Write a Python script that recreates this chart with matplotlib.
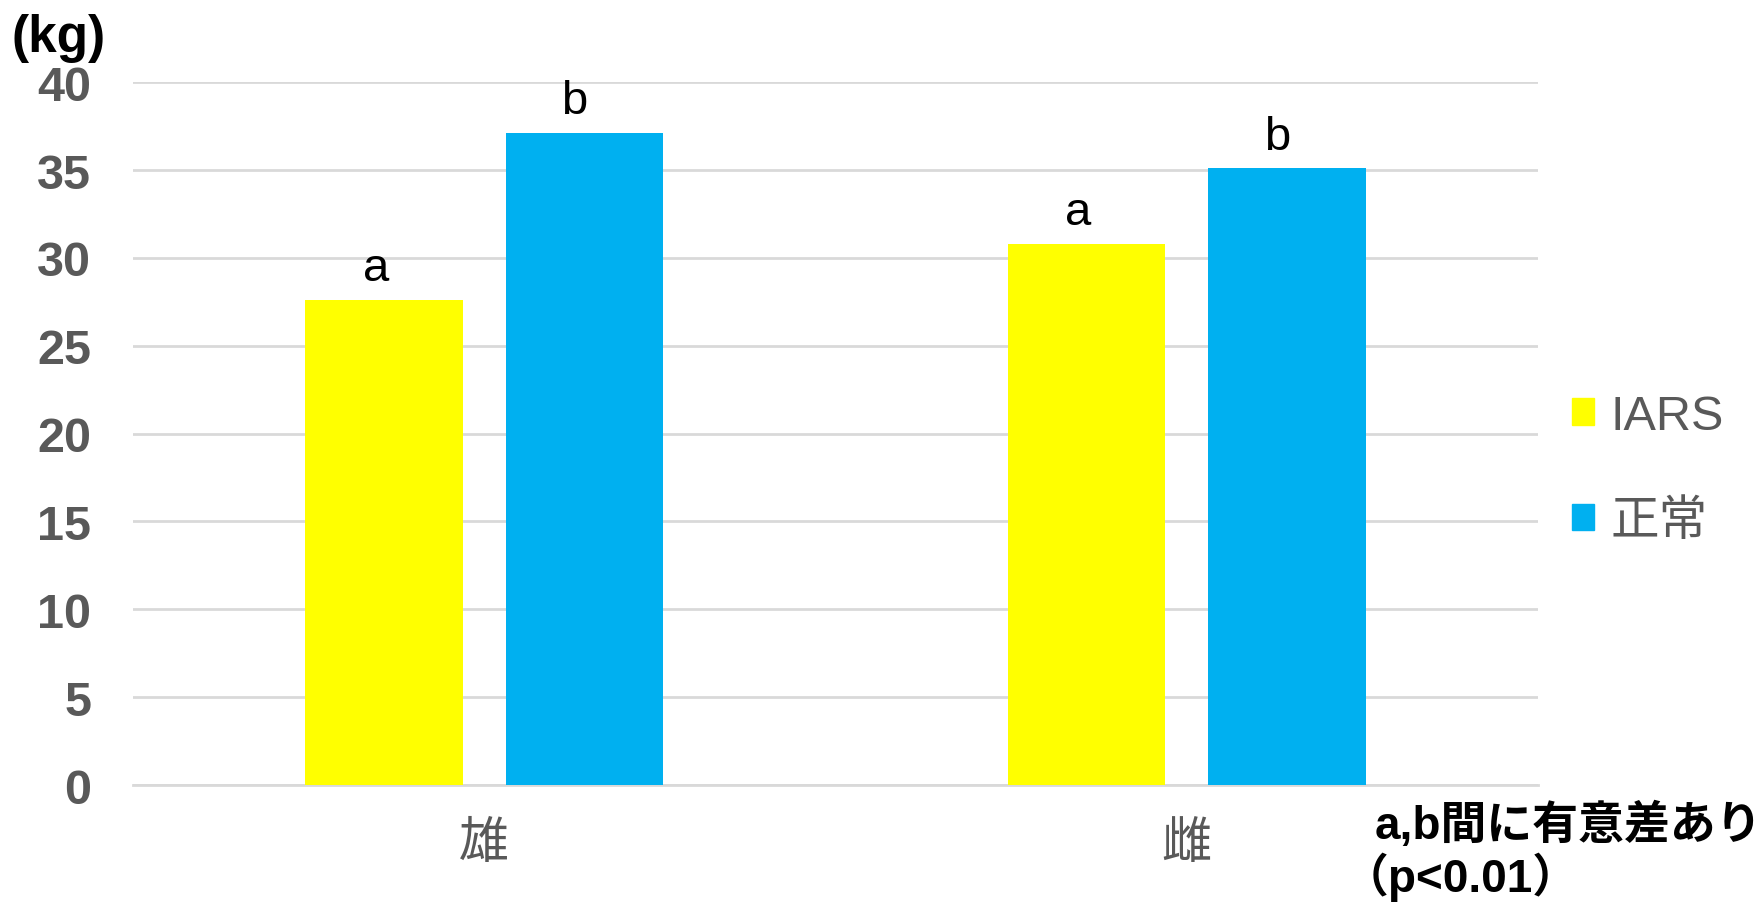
import matplotlib
matplotlib.use("Agg")
import matplotlib.pyplot as plt
import numpy as np
from matplotlib.patches import Patch

plt.rcParams['font.family'] = ['Liberation Sans', 'Noto Sans CJK JP', 'DejaVu Sans']

categories = ['雄', '雌']
series_names = ['IARS', '正常']
iars_values = [27.6, 30.8]
normal_values = [37.1, 35.1]
iars_letters = ['a', 'a']
normal_letters = ['b', 'b']
yticks = [0, 5, 10, 15, 20, 25, 30, 35, 40]
colors = ['#FFFF00', '#00B0F0']

fig = plt.figure(figsize=(17.63, 9.04), dpi=100)
ax = fig.add_axes([0.0754, 0.1305, 0.797, 0.7775])

x = np.arange(len(categories))
w = 0.224
off = 0.1425
ax.bar(x - off, iars_values, w, color=colors[0], zorder=3)
ax.bar(x + off, normal_values, w, color=colors[1], zorder=3)

for xi, v, t in zip(x - off, iars_values, iars_letters):
    ax.annotate(t, (xi, v), xytext=(-6, 7), textcoords='offset points',
                ha='center', va='bottom', fontsize=34, color='black')
for xi, v, t in zip(x + off, normal_values, normal_letters):
    ax.annotate(t, (xi, v), xytext=(-7, 7), textcoords='offset points',
                ha='center', va='bottom', fontsize=34, color='black')

ax.set_xlim(-0.5, 1.5)
ax.set_ylim(0, 40)
ax.set_yticks(yticks)
ax.set_yticklabels([str(t) for t in yticks], fontsize=35, fontweight='bold', color='#595959')
ax.set_xticks(x)
ax.set_xticklabels(categories, fontsize=36, color='#595959')
ax.tick_params(axis='y', length=0, pad=30)
ax.tick_params(axis='x', length=0, pad=26)
ax.grid(axis='y', color='#D9D9D9', linewidth=2, zorder=0)
for s in ['top', 'right', 'left']:
    ax.spines[s].set_visible(False)
ax.spines['bottom'].set_color('#D9D9D9')
ax.spines['bottom'].set_linewidth(2)

handles = [Patch(color=colors[0]), Patch(color=colors[1])]
leg = fig.legend(handles, series_names, loc='center left',
                 bbox_to_anchor=(1572 / 1763, 1 - 470 / 904), bbox_transform=fig.transFigure,
                 frameon=False, fontsize=35, handlelength=0.46, handleheight=0.46,
                 handletextpad=0.33, labelspacing=1.24, borderpad=0, borderaxespad=0)
for t in leg.get_texts():
    t.set_color('#595959')

fig.text(11/1763, 1 - 14/904, '(kg)', ha='left', va='top', fontsize=37, fontweight='bold')
fig.text(1375/1763, 1 - 826/904, 'a,b間に有意差あり', ha='left', va='center',
         fontsize=33, fontweight='bold')
fig.text(1343/1763, 1 - 877/904, '（p<0.01）', ha='left', va='center',
         fontsize=33, fontweight='bold')

fig.savefig('out.png', dpi=100)
